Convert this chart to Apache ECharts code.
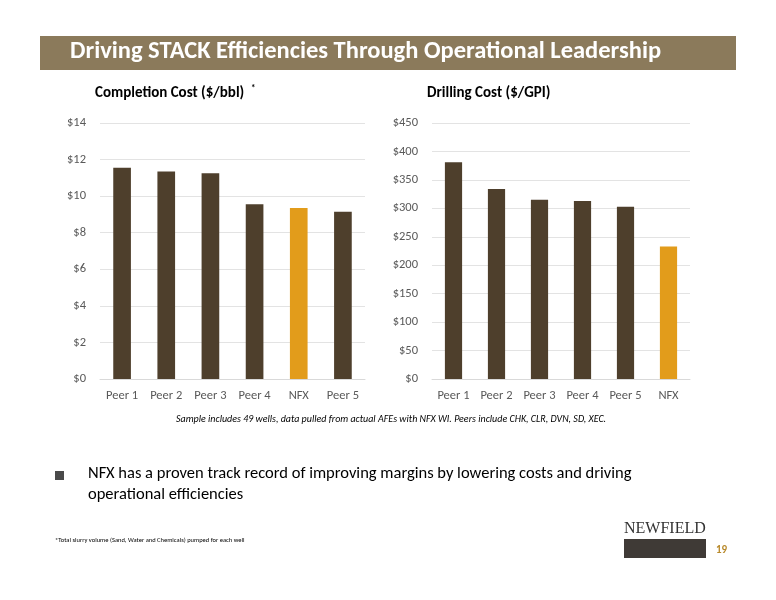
<!DOCTYPE html>
<html><head><meta charset="utf-8">
<script src="https://cdn.jsdelivr.net/npm/echarts@6/dist/echarts.min.js"></script>
<style>html,body{margin:0;background:#fff}#c{width:776px;height:600px}</style>
</head><body><div id="c"></div>
<script>
const compCats = ['Peer 1','Peer 2','Peer 3','Peer 4','NFX','Peer 5'];
const compVals = [11.55, 11.35, 11.25, 9.55, 9.35, 9.15];
const drillCats = ['Peer 1','Peer 2','Peer 3','Peer 4','Peer 5','NFX'];
const drillVals = [381, 334, 315, 313, 303, 233];
const BROWN = '#4e3f2c', GOLD = '#e29c1b';
const font = 'Calibri, "Liberation Sans", "Open Sans", sans-serif';
const col = (cats) => (p) => cats[p.dataIndex] === 'NFX' ? GOLD : BROWN;
const ax = {
  axisLine:{show:true,lineStyle:{color:'#d9d9d9'}}, axisTick:{show:false},
  axisLabel:{color:'#595959',fontSize:12.5,fontFamily:font,margin:10}
};
const yax = {
  axisLine:{show:false}, axisTick:{show:false},
  splitLine:{lineStyle:{color:'#e3e3e3'}},
  axisLabel:{color:'#595959',fontSize:12.5,fontFamily:font,margin:14}
};
const chart = echarts.init(document.getElementById('c'));
chart.setOption({
  animation:false,
  grid:[{left:100,top:123,width:265,height:256},{left:432,top:123,width:258,height:256}],
  xAxis:[Object.assign({type:'category',data:compCats,gridIndex:0},ax),
         Object.assign({type:'category',data:drillCats,gridIndex:1},ax)],
  yAxis:[Object.assign({type:'value',gridIndex:0,min:0,max:14,interval:2},yax,{axisLabel:Object.assign({},yax.axisLabel,{formatter:'${value}'})}),
         Object.assign({type:'value',gridIndex:1,min:0,max:450,interval:50},yax,{axisLabel:Object.assign({},yax.axisLabel,{formatter:'${value}'})})],
  series:[
    {type:'bar',data:compVals,xAxisIndex:0,yAxisIndex:0,barWidth:'40%',itemStyle:{color:col(compCats)}},
    {type:'bar',data:drillVals,xAxisIndex:1,yAxisIndex:1,barWidth:'40%',itemStyle:{color:col(drillCats)}}
  ],
  graphic:[
    {type:'rect',shape:{x:40,y:36,width:696,height:34},style:{fill:'#8b7a5b'}},
    {type:'text',left:70,top:39,style:{text:'Driving STACK Efficiencies Through Operational Leadership',fill:'#fff',font:'bold 24.5px '+font}},
    {type:'text',left:95,top:86,style:{text:'Completion Cost ($/bbl)',fill:'#000',font:'bold 15px '+font}},
    {type:'text',left:251,top:84,style:{text:'*',fill:'#000',font:'bold 9px '+font}},
    {type:'text',left:427,top:86,style:{text:'Drilling Cost ($/GPI)',fill:'#000',font:'bold 15px '+font}},
    {type:'text',left:176,top:414,style:{text:'Sample includes 49 wells, data pulled from actual AFEs with NFX WI. Peers include CHK, CLR, DVN, SD, XEC.',fill:'#000',font:'italic 10px '+font}},
    {type:'rect',shape:{x:55,y:471,width:9,height:9},style:{fill:'#4a4a4a'}},
    {type:'text',left:88,top:463,style:{text:'NFX has a proven track record of improving margins by lowering costs and driving\noperational efficiencies',fill:'#000',font:'16.5px '+font,lineHeight:21}},
    {type:'text',left:55,top:537,style:{text:'*Total slurry volume (Sand, Water and Chemicals) pumped for each well',fill:'#000',font:'6.5px '+font}},
    {type:'text',left:624,top:521,style:{text:'NEWFIELD',fill:'#333',font:'16px "Liberation Serif", serif'}},
    {type:'rect',shape:{x:624,y:539,width:82,height:19},style:{fill:'#3f3a36'}},
    {type:'text',left:716,top:545,style:{text:'19',fill:'#b8892a',font:'bold 11px '+font}}
  ]
});
</script></body></html>
